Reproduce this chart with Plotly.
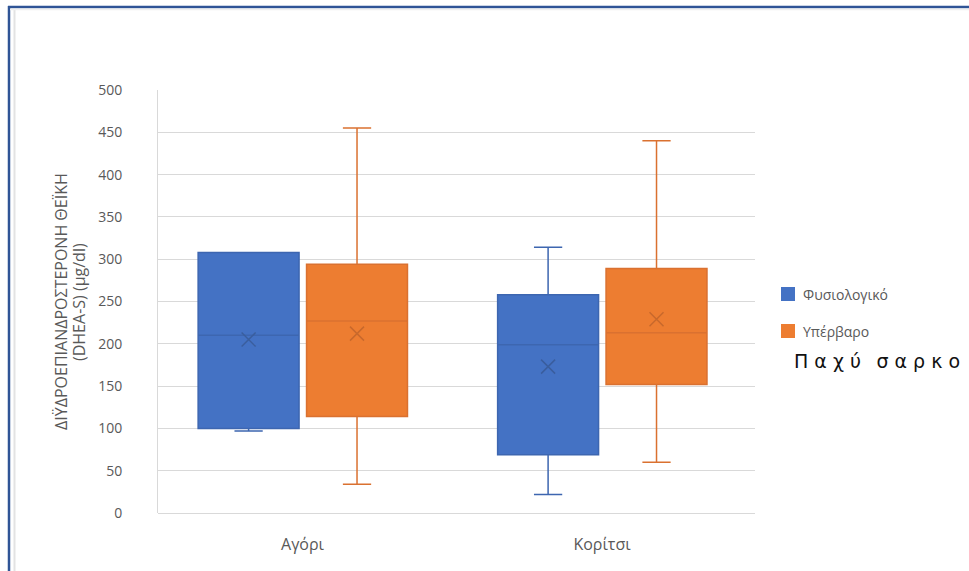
import numpy as np
import plotly.graph_objects as go

# Categories and series
categories = ["Αγόρι", "Κορίτσι"]
series_names = ["Φυσιολογικό", "Υπέρβαρο"]

# Box statistics per series (one value per category)
normal_lower = [97, 22]
normal_q1 = [100, 69]
normal_median = [210, 199]
normal_q3 = [308, 258]
normal_upper = [308, 314]
normal_mean = [205, 173]

over_lower = [34, 60]
over_q1 = [114, 152]
over_median = [227, 213]
over_q3 = [294, 289]
over_upper = [455, 440]
over_mean = [212, 229]

y_ticks = [0, 50, 100, 150, 200, 250, 300, 350, 400, 450, 500]
y_title_lines = ["ΔΙΫΔΡΟΕΠΙΑΝΔΡΟΣΤΕΡΟΝΗ ΘΕΪΚΗ", "(DHEA-S) (μg/dl)"]
extra_label = " ".join("Παχύ") + "\u2002 " + " ".join("σαρκο")

# Styling
fills = ["#4472C4", "#ED7D31"]
edges = ["#3D66B0", "#DA7130"]
mean_marks = ["#3A5E9E", "#C8692C"]
text_grey = "#595959"
grid_grey = "#D9D9D9"
font_family = "Open Sans"

W, H = 969, 571
L, R, T, B = 158, 214, 90, 58
plot_w = W - L - R
plot_h = H - T - B


def px_x(x):
    return (x - L) / plot_w


def px_y(y):
    return (H - B - y) / plot_h


base = np.arange(len(categories))
offsets = [-0.18, 0.182]
box_width = 0.337

stats = [
    (normal_lower, normal_q1, normal_median, normal_q3, normal_upper, normal_mean),
    (over_lower, over_q1, over_median, over_q3, over_upper, over_mean),
]

fig = go.Figure()
for i, (lo, q1, med, q3, up, mean) in enumerate(stats):
    xs = base + offsets[i]
    fig.add_trace(go.Box(
        name=series_names[i],
        x=xs,
        lowerfence=lo, q1=q1, median=med, q3=q3, upperfence=up,
        width=box_width,
        fillcolor=fills[i],
        line=dict(color=edges[i], width=1.5),
        whiskerwidth=0.28,
        boxpoints=False,
        showlegend=False,
        hoverinfo="skip",
    ))
    fig.add_trace(go.Scatter(
        x=xs, y=mean, mode="markers",
        marker=dict(symbol="x-thin", size=14,
                    line=dict(color=mean_marks[i], width=1.5)),
        showlegend=False, hoverinfo="skip",
    ))

range_left = -0.4825
cat_px = 299.5
fig.update_xaxes(
    range=[range_left, range_left + plot_w / cat_px],
    tickmode="array", tickvals=base, ticktext=categories,
    tickfont=dict(family=font_family, size=16, color=text_grey),
    showgrid=False, zeroline=False, showline=False,
    ticks="", ticklabelstandoff=20,
)
fig.update_yaxes(
    range=[0, 500], tickmode="array", tickvals=y_ticks,
    tickfont=dict(family=font_family, size=14, color=text_grey),
    showgrid=True, gridcolor=grid_grey, gridwidth=1,
    zeroline=True, zerolinecolor=grid_grey, zerolinewidth=1,
    showline=True, linecolor=grid_grey, linewidth=1,
    ticks="", ticklabelstandoff=32,
)

annotations = []
for line, xc in zip(y_title_lines, [61, 79]):
    annotations.append(dict(
        text=line, xref="paper", yref="paper", x=px_x(xc), y=px_y(302),
        textangle=-90, showarrow=False, xanchor="center", yanchor="middle",
        font=dict(family=font_family, size=16, color=text_grey)))

shapes = []

# Legend entries
legend_rows = [294, 331]
for i, name in enumerate(series_names):
    yc = legend_rows[i]
    shapes.append(dict(type="rect", xref="paper", yref="paper",
                       x0=px_x(781), x1=px_x(795), y0=px_y(yc - 7), y1=px_y(yc + 7),
                       fillcolor=fills[i], line=dict(width=0)))
    annotations.append(dict(text=name, xref="paper", yref="paper",
                            x=px_x(801), y=px_y(yc), showarrow=False,
                            xanchor="left", yanchor="middle",
                            font=dict(family=font_family, size=14, color=text_grey)))

annotations.append(dict(text=extra_label, xref="paper", yref="paper",
                        x=px_x(792), y=px_y(361), showarrow=False,
                        xanchor="left", yanchor="middle",
                        font=dict(family="DejaVu Sans", size=19, color="#111111")))

# Outer frame: dark left/top edges with a faint inner rule
shapes += [
    dict(type="line", xref="paper", yref="paper", x0=px_x(9), x1=px_x(9),
         y0=px_y(6), y1=px_y(H + 2), line=dict(color="#2F5496", width=2.5)),
    dict(type="line", xref="paper", yref="paper", x0=px_x(8), x1=px_x(W + 2),
         y0=px_y(7), y1=px_y(7), line=dict(color="#2F5496", width=2.5)),
    dict(type="line", xref="paper", yref="paper", x0=px_x(14.5), x1=px_x(14.5),
         y0=px_y(9), y1=px_y(H + 2), line=dict(color="#E3E3E3", width=2)),
    dict(type="line", xref="paper", yref="paper", x0=px_x(10), x1=px_x(W + 2),
         y0=px_y(9.5), y1=px_y(9.5), line=dict(color="#EFEFEF", width=1.5)),
]

fig.update_layout(
    width=W, height=H,
    margin=dict(l=L, r=R, t=T, b=B, pad=0),
    paper_bgcolor="white", plot_bgcolor="white",
    boxmode="overlay",
    annotations=annotations, shapes=shapes,
    showlegend=False,
)

fig.write_html("out.html")
